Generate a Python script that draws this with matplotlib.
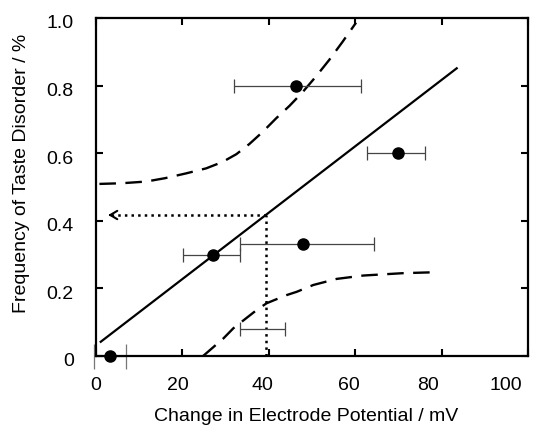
import matplotlib.pyplot as plt
from matplotlib.transforms import ScaledTranslation

plt.rcParams['font.family'] = ['Liberation Sans', 'DejaVu Sans']

# measured points (mean electrode potential change vs. frequency)
x_mean = [3.2, 27.1, 48.0, 70.0, 46.4]
y_freq = [0.0, 0.30, 0.33, 0.60, 0.80]
x_lo = [-0.5, 20.1, 33.4, 62.8, 32.0]
x_hi = [6.9, 33.4, 64.4, 76.2, 61.3]

# predicted interval bar (no point)
pred_x, pred_lo, pred_hi, pred_y = 38.5, 33.4, 43.7, 0.079

# regression line
fit_x = [1.1, 83.5]
fit_y = [0.042, 0.851]

# confidence bands
upper_x = [0.8, 6.0, 11.6, 16.0, 20.8, 25.5, 29.3, 32.5, 35.5, 38.6, 41.7, 44.8, 47.8, 51.0,
           54.0, 57.0, 60.2]
upper_y = [0.509, 0.511, 0.516, 0.526, 0.540, 0.555, 0.574, 0.597, 0.627, 0.663, 0.703,
           0.740, 0.780, 0.828, 0.876, 0.928, 0.986]
lower_x = [24.8, 29.5, 31.8, 37.2, 39.5, 44.1, 46.5, 50.3, 55.7, 61.9, 71.1, 79.2]
lower_y = [0.0, 0.052, 0.082, 0.136, 0.156, 0.180, 0.190, 0.210, 0.228, 0.238, 0.245, 0.248]

# read-off from regression
read_x, read_y, arrow_end = 39.3, 0.417, 2.85

xticks = [0, 20, 40, 60, 80, 100]
yticks = [0, 0.2, 0.4, 0.6, 0.8, 1.0]
ytick_labels = ['0', '0.2', '0.4', '0.6', '0.8', '1.0']
# label drift in the original (pixels)
xlabel_shift = [0, -5, -6, -6, -14, -22]

fig = plt.figure(figsize=(5.38, 4.29), dpi=100)
ax = fig.add_axes([0.1784, 0.1702, 0.803, 0.788])

ax.plot(fit_x, fit_y, color='black', lw=1.6)
ax.plot(upper_x, upper_y, color='black', lw=1.7, dashes=(7, 4))
ax.plot(lower_x, lower_y, color='black', lw=1.7, dashes=(7, 4))

# dotted read-off lines
ax.plot([read_x, read_x], [0, read_y], color='black', lw=1.8, ls=':')
ax.plot([read_x, arrow_end + 0.5], [read_y, read_y], color='black', lw=1.8, ls=':')
ax.annotate('', xy=(arrow_end, read_y), xytext=(arrow_end + 0.6, read_y),
            arrowprops=dict(arrowstyle='->, head_length=0.5, head_width=0.3',
                            color='black', lw=1.5))

# error bars
xerr = [[m - lo for m, lo in zip(x_mean, x_lo)],
        [hi - m for m, hi in zip(x_mean, x_hi)]]
ax.errorbar(x_mean[1:], y_freq[1:], xerr=[xerr[0][1:], xerr[1][1:]], fmt='none',
            ecolor='#444444', elinewidth=0.9, capsize=4.8, capthick=0.9)
ax.errorbar(x_mean[:1], y_freq[:1], xerr=[xerr[0][:1], xerr[1][:1]], fmt='none',
            ecolor='#777777', elinewidth=0.9, capsize=9, capthick=0.9, clip_on=False)
ax.errorbar([pred_x], [pred_y], xerr=[[pred_x - pred_lo], [pred_hi - pred_x]],
            fmt='none', ecolor='#444444', elinewidth=0.9, capsize=4.8, capthick=0.9)
ax.plot(x_mean, y_freq, 'o', color='black', ms=8, clip_on=False, zorder=5)

ax.set_xlim(0, 100)
ax.set_ylim(0, 1.0)
ax.set_xticks(xticks)
ax.set_yticks(yticks)
ax.set_yticklabels(ytick_labels)
ax.tick_params(direction='in', length=5, width=1.5, top=True, right=True,
               labelsize=14)
ax.tick_params(axis='x', pad=15)
ax.tick_params(axis='y', pad=16)
for s in ax.spines.values():
    s.set_linewidth(1.6)

for lab, dx in zip(ax.get_xticklabels(), xlabel_shift):
    lab.set_transform(lab.get_transform() + ScaledTranslation(dx / 100, 0, fig.dpi_scale_trans))
for lab in ax.get_yticklabels():
    lab.set_transform(lab.get_transform() + ScaledTranslation(0, -4 / 100, fig.dpi_scale_trans))

ax.set_xlabel('Change in Electrode Potential / mV', fontsize=14)
ax.set_ylabel('Frequency of Taste Disorder / %', fontsize=14)
ax.xaxis.set_label_coords(0.486, -0.155)
ax.yaxis.set_label_coords(-0.152, 0.54)

fig.savefig('out.png', dpi=100)
